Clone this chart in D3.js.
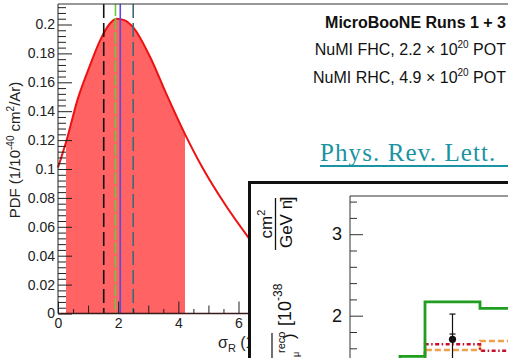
<!DOCTYPE html>
<html>
<head>
<meta charset="utf-8">
<script src="https://cdn.jsdelivr.net/npm/d3@7/dist/d3.min.js"></script>
<style>
  html, body { margin: 0; padding: 0; background: #fff; overflow: hidden; }
  svg { display: block; font-family: "Liberation Sans", Arial, sans-serif; }
</style>
</head>
<body>
<svg id="chart" width="508" height="358"></svg>
<script>
// Posterior PDF of the cross section, sampled along the curve
const sigmaVals = [0, 0.3, 0.65, 1.05, 1.4, 1.7, 1.95, 2.2, 2.5, 3.05, 3.6, 4.2, 4.8, 5.6, 6.35];
const pdfVals   = [0.101, 0.121, 0.148, 0.171, 0.189, 0.200, 0.204, 0.203, 0.198, 0.178, 0.152, 0.125, 0.101, 0.074, 0.052];
// Shaded interval
const bandRange = [0.27, 4.22];
// Reference lines (sigma values) and their colours
const refValues = [1.52, 1.91, 2.07, 2.5];
const refColors = ["#111111", "#6cc83a", "#5a48e6", "#3a6c78"];
const refDashes = ["14,5", "12,2", null, "14,5"];
// Axis ticks
const yMajor = [0, 0.02, 0.04, 0.06, 0.08, 0.1, 0.12, 0.14, 0.16, 0.18, 0.2];
const yLabels = ["0", "0.02", "0.04", "0.06", "0.08", "0.1", "0.12", "0.14", "0.16", "0.18", "0.2"];
const xMajor = [0, 2, 4, 6];

// Inset: differential cross section vs reconstructed muon momentum
const binEdges = [0.2, 0.3, 0.4, 0.62, 0.9];
const greenVals = [1.3, 1.5, 2.17, 2.09];
const orangeVals = [1.1, 1.2, 1.58, 1.69];
const redVals = [1.1, 1.2, 1.65, 1.57];
const dataP = [0.51];
const dataVal = [1.71];
const dataStatUp = [1.775];
const dataTotUp = [2.02];
const dataTotDn = [1.40];
const insetYMajor = [2, 3];

const svg = d3.select("#chart");

const x = d3.scaleLinear().domain([0, 6]).range([58, 238.5]);
const y = d3.scaleLinear().domain([0, 0.2]).range([313.5, 24.5]);
const yTop = y.invert(4);

const pts = sigmaVals.map((s, i) => [s, pdfVals[i]]);

// clip for the shaded band
svg.append("clipPath").attr("id", "band")
  .append("rect")
  .attr("x", x(bandRange[0])).attr("y", 0)
  .attr("width", x(bandRange[1]) - x(bandRange[0])).attr("height", 358);

svg.append("path")
  .datum(pts)
  .attr("clip-path", "url(#band)")
  .attr("fill", "#ff6363")
  .attr("d", d3.area().x(d => x(d[0])).y0(y(0)).y1(d => y(d[1])).curve(d3.curveMonotoneX));

svg.append("path")
  .datum(pts)
  .attr("fill", "none")
  .attr("stroke", "#ee1111")
  .attr("stroke-width", 2)
  .attr("d", d3.line().x(d => x(d[0])).y(d => y(d[1])).curve(d3.curveMonotoneX));

// reference lines
refValues.forEach((v, i) => {
  svg.append("line")
    .attr("x1", x(v)).attr("x2", x(v))
    .attr("y1", y(yTop)).attr("y2", y(0))
    .attr("stroke", refColors[i])
    .attr("stroke-width", 1.6)
    .attr("stroke-dasharray", refDashes[i]);
});

// y axis (ticks pointing inward)
const yMinor = d3.range(0, 0.2141, 0.004).filter(v => !yMajor.some(m => Math.abs(m - v) < 1e-6));
const yAxisMinor = svg.append("g").attr("transform", `translate(${x(0)},0)`)
  .call(d3.axisLeft(y).tickValues(yMinor).tickSize(-8).tickFormat(""));
yAxisMinor.select(".domain").remove();
const yAxis = svg.append("g").attr("transform", `translate(${x(0)},0)`)
  .call(d3.axisLeft(y).tickValues(yMajor).tickSize(-14).tickPadding(3)
    .tickFormat((d, i) => yLabels[i]));
yAxis.select(".domain").attr("d", `M0,${y(yTop)}V${y(0)}`).attr("stroke", "#222");
yAxis.selectAll("text").attr("font-size", 14).attr("fill", "#222")
  .attr("font-family", "Liberation Sans, Arial, sans-serif");
svg.selectAll(".tick line").attr("stroke", "#222");

// x axis
const xAxisScale = x.copy().domain([0, 7]).range([x(0), x(7)]);
const xTert = d3.range(0.5, 7, 1);
const xSec = [1, 3, 5];
const g1 = svg.append("g").attr("transform", `translate(0,${y(0)})`)
  .call(d3.axisBottom(xAxisScale).tickValues(xTert).tickSize(-4.5).tickFormat(""));
g1.select(".domain").remove();
const g2 = svg.append("g").attr("transform", `translate(0,${y(0)})`)
  .call(d3.axisBottom(xAxisScale).tickValues(xSec).tickSize(-8).tickFormat(""));
g2.select(".domain").remove();
const xAxis = svg.append("g").attr("transform", `translate(0,${y(0)})`)
  .call(d3.axisBottom(xAxisScale).tickValues(xMajor).tickSize(-12).tickPadding(5).tickFormat(d3.format("d")));
xAxis.select(".domain").attr("d", `M${x(0)},0H${x(7)}`).attr("stroke", "#3a1a1a").attr("stroke-width", 1.4);
xAxis.selectAll("text").attr("font-size", 14).attr("fill", "#222")
  .attr("font-family", "Liberation Sans, Arial, sans-serif");
svg.selectAll(".tick line").attr("stroke", "#222");

// top frame
svg.append("line").attr("x1", x(0)).attr("x2", 508).attr("y1", 4).attr("y2", 4)
  .attr("stroke", "#333").attr("stroke-width", 1.2);

// axis titles
const yt = svg.append("text")
  .attr("transform", "translate(20,150) rotate(-90)")
  .attr("text-anchor", "middle").attr("font-size", 15).attr("fill", "#222");
yt.append("tspan").text("PDF (1/10");
yt.append("tspan").attr("font-size", 10).attr("dy", -6).text("-40");
yt.append("tspan").attr("dy", 6).text(" cm");
yt.append("tspan").attr("font-size", 10).attr("dy", -6).text("2");
yt.append("tspan").attr("dy", 6).text("/Ar)");

const xt = svg.append("text").attr("x", 218).attr("y", 348)
  .attr("font-size", 16).attr("fill", "#222");
xt.append("tspan").text("σ");
xt.append("tspan").attr("font-size", 11).attr("dy", 4).text("R");
xt.append("tspan").attr("dy", -4).text(" (10");

// experiment annotation
const ann = svg.append("g").attr("font-size", 16).attr("fill", "#111").attr("text-anchor", "end");
ann.append("text").attr("x", 506).attr("y", 28).attr("font-weight", "bold").text("MicroBooNE Runs 1 + 3");
[["NuMI FHC, 2.2 × 10", 55], ["NuMI RHC, 4.9 × 10", 83]].forEach(([t, yy]) => {
  const tx = ann.append("text").attr("x", 506).attr("y", yy);
  tx.append("tspan").text(t);
  tx.append("tspan").attr("font-size", 10).attr("dy", -7).text("20");
  tx.append("tspan").attr("dy", 7).text(" POT");
});

// journal link
svg.append("text").attr("x", 320).attr("y", 161)
  .attr("font-family", "Liberation Serif, serif").attr("font-size", 25)
  .attr("letter-spacing", 1.1)
  .attr("fill", "#1a93a2").text("Phys. Rev. Lett.");
svg.append("line").attr("x1", 320).attr("x2", 508).attr("y1", 166).attr("y2", 166)
  .attr("stroke", "#1a93a2").attr("stroke-width", 2.2);

// ---- inset panel ----
const inset = svg.append("g");
inset.append("rect").attr("x", 249.5).attr("y", 182.5).attr("width", 300).attr("height", 200)
  .attr("fill", "#fff").attr("stroke", "#111").attr("stroke-width", 3);

const ix = d3.scaleLinear().domain([0.1, 0.75]).range([350, 512.5]);
const iy = d3.scaleLinear().domain([2, 3]).range([315.7, 234.2]);

inset.append("line").attr("x1", 350).attr("x2", 350).attr("y1", 196).attr("y2", 360)
  .attr("stroke", "#333").attr("stroke-width", 1);
inset.append("line").attr("x1", 350).attr("x2", 510).attr("y1", 196).attr("y2", 196)
  .attr("stroke", "#333").attr("stroke-width", 1);

const iMinor = d3.range(1.4, 3.45, 0.2).filter(v => !insetYMajor.some(m => Math.abs(m - v) < 1e-6));
const ia1 = inset.append("g").attr("transform", "translate(350,0)")
  .call(d3.axisLeft(iy).tickValues(iMinor).tickSize(-7).tickFormat(""));
ia1.select(".domain").remove();
const ia2 = inset.append("g").attr("transform", "translate(350,0)")
  .call(d3.axisLeft(iy).tickValues(insetYMajor).tickSize(-13).tickPadding(8).tickFormat(d3.format("d")));
ia2.select(".domain").remove();
ia2.selectAll("text").attr("font-size", 18).attr("fill", "#111")
  .attr("font-family", "Liberation Sans, Arial, sans-serif");
inset.selectAll(".tick line").attr("stroke", "#333");

function stepPts(vals) {
  const p = vals.map((v, i) => [binEdges[i], v]);
  p.push([binEdges[binEdges.length - 1], vals[vals.length - 1]]);
  return p;
}
const stepLine = d3.line().x(d => ix(d[0])).y(d => iy(d[1])).curve(d3.curveStepAfter);

inset.append("path").datum(stepPts(orangeVals)).attr("fill", "none")
  .attr("stroke", "#f0a04a").attr("stroke-width", 2.5).attr("stroke-dasharray", "6,3")
  .attr("d", stepLine);
inset.append("path").datum(stepPts(redVals)).attr("fill", "none")
  .attr("stroke", "#c4102c").attr("stroke-width", 2.5).attr("stroke-dasharray", "4,2.5,1.5,2.5")
  .attr("d", stepLine);
inset.append("path").datum(stepPts(greenVals)).attr("fill", "none")
  .attr("stroke", "#1f9e1f").attr("stroke-width", 2.8)
  .attr("d", stepLine);

dataP.forEach((p, i) => {
  inset.append("line").attr("x1", ix(p)).attr("x2", ix(p))
    .attr("y1", iy(dataTotUp[i])).attr("y2", iy(dataTotDn[i]))
    .attr("stroke", "#111").attr("stroke-width", 1.2);
  [dataTotUp[i], dataStatUp[i]].forEach(v => {
    inset.append("line").attr("x1", ix(p) - 3).attr("x2", ix(p) + 3)
      .attr("y1", iy(v)).attr("y2", iy(v)).attr("stroke", "#111").attr("stroke-width", 1.2);
  });
  inset.append("circle").attr("cx", ix(p)).attr("cy", iy(dataVal[i])).attr("r", 3.6).attr("fill", "#111");
});

// inset y title pieces (rotated)
const lab = inset.append("g").attr("fill", "#111").attr("font-family", "Liberation Sans, Arial, sans-serif");
const rot = (sx, sy) => `translate(${sx},${sy}) rotate(-90)`;
const cm = lab.append("text").attr("transform", rot(272, 224)).attr("text-anchor", "middle").attr("font-size", 17);
cm.append("tspan").text("cm");
cm.append("tspan").attr("font-size", 11).attr("dy", -7).text("2");
lab.append("line").attr("x1", 275.5).attr("x2", 275.5).attr("y1", 198).attr("y2", 250)
  .attr("stroke", "#111").attr("stroke-width", 1.3);
lab.append("text").attr("transform", rot(292, 224)).attr("text-anchor", "middle").attr("font-size", 17).text("GeV n");
lab.append("text").attr("transform", rot(293, 199)).attr("text-anchor", "middle").attr("font-size", 19).attr("font-weight", "300").text("]");
const br = lab.append("text").attr("transform", rot(291, 326)).attr("text-anchor", "start").attr("font-size", 18);
br.append("tspan").text("[10");
br.append("tspan").attr("font-size", 12).attr("dy", -9).text("-38");
lab.append("text").attr("transform", rot(295, 339)).attr("text-anchor", "start").attr("font-size", 17).text(")");
lab.append("text").attr("transform", rot(285, 353)).attr("text-anchor", "start").attr("font-size", 11).text("reco");
lab.append("text").attr("transform", rot(299, 357)).attr("text-anchor", "start").attr("font-size", 9).text("μ");
lab.append("line").attr("x1", 272).attr("x2", 272).attr("y1", 333).attr("y2", 360)
  .attr("stroke", "#111").attr("stroke-width", 1.2);
</script>
</body>
</html>
